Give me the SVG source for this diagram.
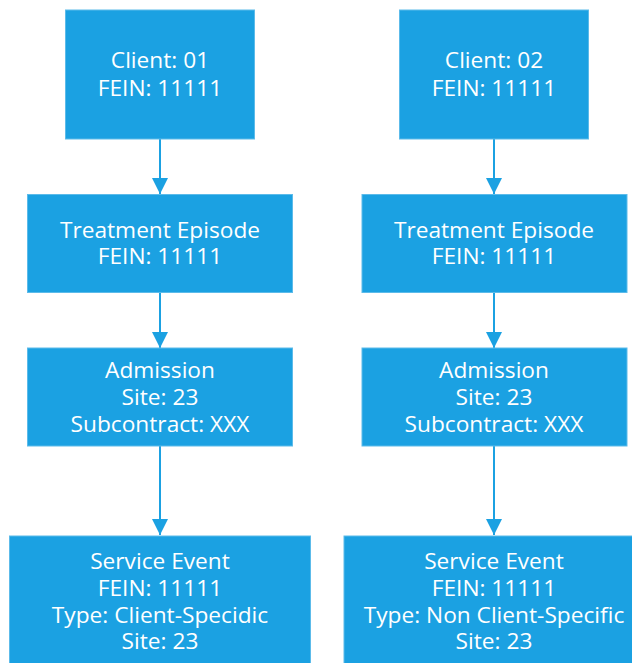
<svg xmlns="http://www.w3.org/2000/svg" width="632" height="663" viewBox="0 0 632 663">
<style>
.box{fill:#1ba1e2;stroke:#5cbbea;stroke-width:1}
.t{font-family:"Open Sans","Noto Sans",sans-serif;font-size:22.7px;fill:#ffffff;text-anchor:middle}
.c{stroke:#1ba1e2;stroke-width:2;fill:none}
</style>
<defs>
<marker id="ah" markerUnits="userSpaceOnUse" markerWidth="16" markerHeight="16" refX="16" refY="8" orient="auto">
<path d="M0,0 L16,8 L0,16 Z" fill="#1ba1e2"/>
</marker>
</defs>
<rect width="632" height="663" fill="#ffffff"/>
<g id="connectors">
<line class="c" x1="160" y1="139" x2="160" y2="194" marker-end="url(#ah)"/>
<line class="c" x1="160" y1="292" x2="160" y2="348" marker-end="url(#ah)"/>
<line class="c" x1="160" y1="446" x2="160" y2="535" marker-end="url(#ah)"/>
<line class="c" x1="494" y1="139" x2="494" y2="194" marker-end="url(#ah)"/>
<line class="c" x1="494" y1="292" x2="494" y2="348" marker-end="url(#ah)"/>
<line class="c" x1="494" y1="446" x2="494" y2="535" marker-end="url(#ah)"/>
</g>
<g id="client1">
<rect class="box" x="65.5" y="10" width="189" height="129"/>
<text class="t" x="160" y="68">Client: 01</text>
<text class="t" x="160" y="95.5">FEIN: 11111</text>
</g>
<g id="treatment1">
<rect class="box" x="27.5" y="194.5" width="265" height="98"/>
<text class="t" x="160" y="238">Treatment Episode</text>
<text class="t" x="160" y="264">FEIN: 11111</text>
</g>
<g id="admission1">
<rect class="box" x="27.5" y="348" width="265" height="98"/>
<text class="t" x="160" y="378.3">Admission</text>
<text class="t" x="160" y="405">Site: 23</text>
<text class="t" x="160" y="431.7">Subcontract: XXX</text>
</g>
<g id="service1">
<rect class="box" x="9.5" y="536" width="301" height="130"/>
<text class="t" x="160" y="569.3">Service Event</text>
<text class="t" x="160" y="596">FEIN: 11111</text>
<text class="t" x="160" y="622.5">Type: Client-Specidic</text>
<text class="t" x="160" y="648.5">Site: 23</text>
</g>
<g id="client2">
<rect class="box" x="399.5" y="10" width="189" height="129"/>
<text class="t" x="494" y="68">Client: 02</text>
<text class="t" x="494" y="95.5">FEIN: 11111</text>
</g>
<g id="treatment2">
<rect class="box" x="362" y="194.5" width="265" height="98"/>
<text class="t" x="494" y="238">Treatment Episode</text>
<text class="t" x="494" y="264">FEIN: 11111</text>
</g>
<g id="admission2">
<rect class="box" x="362" y="348" width="265" height="98"/>
<text class="t" x="494" y="378.3">Admission</text>
<text class="t" x="494" y="405">Site: 23</text>
<text class="t" x="494" y="431.7">Subcontract: XXX</text>
</g>
<g id="service2">
<rect class="box" x="344" y="536" width="301" height="130"/>
<text class="t" x="494" y="569.3">Service Event</text>
<text class="t" x="494" y="596">FEIN: 11111</text>
<text class="t" x="494" y="622.5">Type: Non Client-Specific</text>
<text class="t" x="494" y="648.5">Site: 23</text>
</g>
</svg>
